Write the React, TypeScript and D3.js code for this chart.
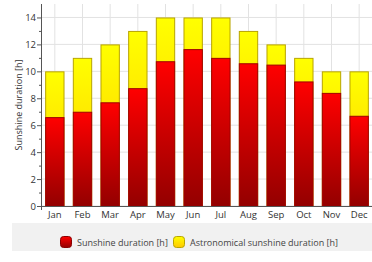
import * as React from 'react';
import { scaleBand, scaleLinear, range } from 'd3';

const months = ['Jan', 'Feb', 'Mar', 'Apr', 'May', 'Jun', 'Jul', 'Aug', 'Sep', 'Oct', 'Nov', 'Dec'];
const sunshine = [6.6, 7.0, 7.7, 8.75, 10.75, 11.65, 11.0, 10.6, 10.5, 9.25, 8.4, 6.7];
const astronomical = [10, 11, 12, 13, 14, 14, 14, 13, 12, 11, 10, 10];
const yTicks = [0, 2, 4, 6, 8, 10, 12, 14];

const W = 372;
const H = 262;
const margin = { top: 4, bottom: 56, left: 41, right: -1 };
const font = '"Open Sans", "DejaVu Sans", sans-serif';

const App = () => {
    const x = scaleBand<string>()
        .domain(months)
        .range([margin.left, W - margin.right])
        .paddingInner(0.3)
        .paddingOuter(0.15);
    const y = scaleLinear().domain([0, 15]).range([H - margin.bottom, margin.top]);
    const minor = range(1, 15, 2);
    const y0 = y(0);
    const axisX = margin.left;

    return (
        <div style={{ position: 'fixed', left: 0, top: 0 }}>
            <svg width={W} height={H} style={{ display: 'block', background: 'white' }}>
                <defs>
                    <linearGradient id="redGrad" x1="0" y1="0" x2="0" y2="1">
                        <stop offset="0" stopColor="#ff0000" />
                        <stop offset="1" stopColor="#930000" />
                    </linearGradient>
                    <linearGradient id="yellowGrad" x1="0" y1="0" x2="0" y2="1">
                        <stop offset="0" stopColor="#ffff00" />
                        <stop offset="1" stopColor="#ffc800" />
                    </linearGradient>
                </defs>

                {/* grid */}
                {yTicks.map(t => (
                    <line key={'gy' + t} x1={axisX} x2={W} y1={y(t)} y2={y(t)} stroke="#e2e2e2" />
                ))}
                {months.map(m => (
                    <line key={'gx' + m} x1={x(m)! + x.bandwidth() / 2} x2={x(m)! + x.bandwidth() / 2}
                        y1={margin.top} y2={y0} stroke="#e2e2e2" />
                ))}

                {/* bars */}
                {months.map((m, i) => (
                    <g key={m}>
                        <rect x={x(m)! + 0.5} y={y(astronomical[i]) + 0.5} width={x.bandwidth() - 1}
                            height={y0 - y(astronomical[i])} fill="url(#yellowGrad)" stroke="#b8a400" strokeWidth={1} />
                        <rect x={x(m)! + 0.5} y={y(sunshine[i]) + 0.5} width={x.bandwidth() - 1}
                            height={y0 - y(sunshine[i])} fill="url(#redGrad)" stroke="#a00000" strokeWidth={1} />
                    </g>
                ))}

                {/* y axis */}
                <line x1={axisX + 0.5} x2={axisX + 0.5} y1={margin.top} y2={y0 + 4} stroke="#555" />
                {yTicks.map(t => (
                    <g key={'yt' + t}>
                        <line x1={axisX - 4} x2={axisX} y1={y(t) + 0.5} y2={y(t) + 0.5} stroke="#555" />
                        <text x={axisX - 5} y={y(t) + 3.5} textAnchor="end" fontSize={9.5} fill="#333" fontFamily={font}>{t}</text>
                    </g>
                ))}
                {minor.map(t => (
                    <line key={'ym' + t} x1={axisX - 2} x2={axisX} y1={y(t) + 0.5} y2={y(t) + 0.5} stroke="#555" />
                ))}

                {/* x axis */}
                <line x1={axisX} x2={W} y1={y0 + 0.5} y2={y0 + 0.5} stroke="#555" />
                {months.map(m => (
                    <text key={'xl' + m} x={x(m)! + x.bandwidth() / 2} y={y0 + 12} textAnchor="middle"
                        fontSize={9.5} fill="#333" fontFamily={font}>{m}</text>
                ))}

                <text transform={`translate(22, ${(margin.top + y0) / 2}) rotate(-90)`} textAnchor="middle"
                    fontSize={9} fill="#333" fontFamily={font}>Sunshine duration [h]</text>

                {/* legend */}
                <rect x={12} y={223} width={W - 12} height={28} fill="#f1f1f1" />
                <rect x={60.5} y={236.5} width={11} height={11} rx={3} fill="url(#redGrad)" stroke="#8a0000" />
                <text x={77} y={245.5} fontSize={9} fill="#444" fontFamily={font}>Sunshine duration [h]</text>
                <rect x={173.5} y={236.5} width={11} height={11} rx={3} fill="url(#yellowGrad)" stroke="#b8a400" />
                <text x={190} y={245.5} fontSize={9} fill="#444" fontFamily={font}>Astronomical sunshine duration [h]</text>
            </svg>
        </div>
    );
};

export default App;
